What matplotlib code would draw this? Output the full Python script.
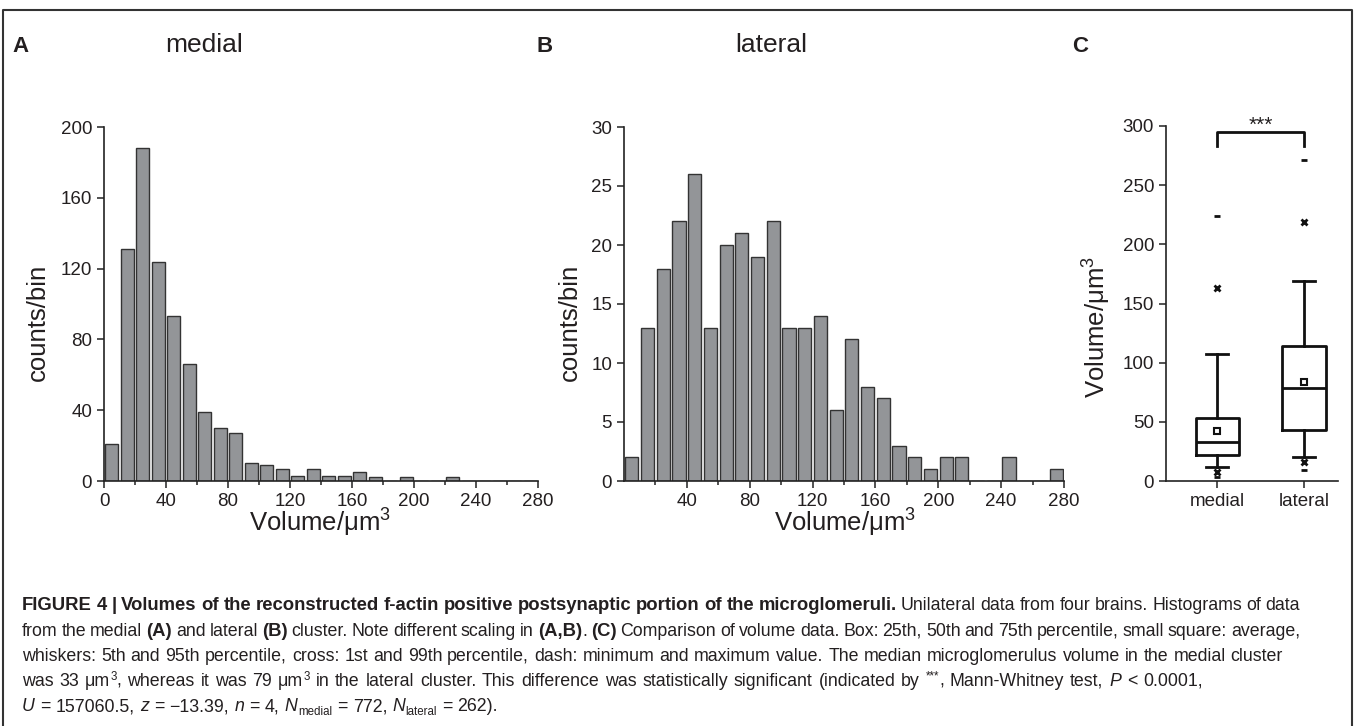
import numpy as np
import matplotlib
matplotlib.use('Agg')
import matplotlib.pyplot as plt
from matplotlib.lines import Line2D

plt.rcParams['font.family'] = ['Liberation Sans', 'DejaVu Sans']
plt.rcParams['mathtext.fontset'] = 'custom'
plt.rcParams['mathtext.rm'] = 'Liberation Sans'
plt.rcParams['mathtext.it'] = 'Liberation Sans:italic'
plt.rcParams['mathtext.bf'] = 'Liberation Sans:bold'

# ===== data =====
bin_left = np.arange(0, 280, 10)          # 10 um^3 bins, 0..280
medial_counts = [21, 131, 188, 124, 93, 66, 39, 30, 27, 10, 9, 7, 3, 7,
                 3, 3, 5, 2, 0, 2, 0, 0, 2, 0, 0, 0, 0, 0]
lateral_counts = [2, 13, 18, 22, 26, 13, 20, 21, 19, 22, 13, 13, 14, 6,
                  12, 8, 7, 3, 2, 1, 2, 2, 0, 0, 2, 0, 0, 1]

groups = ['medial', 'lateral']
q1 = [22, 43]
median = [33, 79]
q3 = [53, 114]
mean = [42, 84]
p5 = [12, 20]
p95 = [107, 169]
p1 = [8, 16]
p99 = [163, 219]
vmin = [3, 9]
vmax = [224, 271]

W, H = 1355, 726
fig = plt.figure(figsize=(W / 100, H / 100), dpi=100)
TXT = '#231f20'
BAR = '#939598'


def px_axes(l, r, t, b):
    return fig.add_axes([l / W, (H - b) / H, (r - l) / W, (b - t) / H])


def style(ax):
    for s in ['top', 'right']:
        ax.spines[s].set_visible(False)
    for s in ['left', 'bottom']:
        ax.spines[s].set_linewidth(1.2)
        ax.spines[s].set_color('#222222')
    ax.tick_params(which='both', direction='out', color='#222222',
                   labelsize=13.5, labelcolor=TXT, width=1.1)
    ax.tick_params(which='major', length=5)
    ax.tick_params(which='minor', length=3)


# ---- A: medial histogram ----
axA = px_axes(104, 538, 127, 481)
axA.bar(bin_left + 5, medial_counts, width=8.4, color=BAR,
        edgecolor='#333333', linewidth=1.0)
axA.set_xlim(0, 280)
axA.set_ylim(0, 200)
axA.set_xticks(np.arange(0, 281, 40))
axA.set_xticks(np.arange(20, 281, 40), minor=True)
axA.set_yticks(np.arange(0, 201, 40))
style(axA)

# ---- B: lateral histogram ----
axB = px_axes(624, 1064, 127, 481)
axB.bar(bin_left + 5, lateral_counts, width=8.4, color=BAR,
        edgecolor='#333333', linewidth=1.0)
axB.set_xlim(0, 280)
axB.set_ylim(0, 30)
axB.set_xticks(np.arange(40, 281, 40))
axB.set_xticks(np.arange(20, 281, 40), minor=True)
axB.set_yticks(np.arange(0, 31, 5))
style(axB)

# ---- C: box plot ----
axC = px_axes(1166, 1338, 126, 481)
stats = []
for i, g in enumerate(groups):
    stats.append(dict(label=g, med=median[i], q1=q1[i], q3=q3[i],
                      whislo=p5[i], whishi=p95[i], mean=mean[i], fliers=[]))
pos = [1, 2]
lw = 2.0
axC.bxp(stats, positions=pos, widths=0.5, capwidths=0.25, showmeans=True,
        showfliers=False,
        boxprops=dict(color='#111111', linewidth=lw),
        whiskerprops=dict(color='#111111', linewidth=lw),
        capprops=dict(color='#111111', linewidth=lw),
        medianprops=dict(color='#111111', linewidth=lw),
        meanprops=dict(marker='s', markersize=5, markerfacecolor='white',
                       markeredgecolor='#111111', markeredgewidth=1.5))
axC.plot(pos, p1, 'x', color='#111111', markersize=5, markeredgewidth=2, ls='none')
axC.plot(pos, p99, 'x', color='#111111', markersize=5, markeredgewidth=2, ls='none')
axC.plot(pos, vmin, '_', color='#111111', markersize=5, markeredgewidth=2, ls='none')
axC.plot(pos, vmax, '_', color='#111111', markersize=5, markeredgewidth=2, ls='none')
axC.set_xlim(0.41, 2.39)
axC.set_ylim(0, 300)
axC.set_yticks(np.arange(0, 301, 50))
axC.set_xticks(pos)
axC.set_xticklabels(groups)
style(axC)
# significance bracket
axC.plot([1, 1, 2, 2], [283, 295, 295, 283], color='#111111', lw=lw,
         clip_on=False)
axC.text(1.5, 296, '***', ha='center', va='baseline', fontsize=15,
         color=TXT, clip_on=False)

# ---- axis labels / panel labels ----
lab = 18.5
fig.text(320 / W, 1 - 532 / H, 'Volume/μm$^3$', ha='center', va='baseline',
         fontsize=lab, color=TXT)
fig.text(845 / W, 1 - 532 / H, 'Volume/μm$^3$', ha='center', va='baseline',
         fontsize=lab, color=TXT)
fig.text(38 / W, 1 - 322 / H, 'counts/bin', rotation=90, ha='center',
         va='center', fontsize=lab, color=TXT)
fig.text(570 / W, 1 - 322 / H, 'counts/bin', rotation=90, ha='center',
         va='center', fontsize=lab, color=TXT)
fig.text(1097 / W, 1 - 327 / H, 'Volume/μm$^3$', rotation=90, ha='center',
         va='center', fontsize=lab, color=TXT)

for x, s in [(12, 'A'), (537, 'B'), (1072, 'C')]:
    fig.text(x / W, 1 - 47 / H, s, ha='left', va='center', fontsize=16,
             fontweight='bold', color=TXT)
fig.text(165 / W, 1 - 45 / H, 'medial', ha='left', va='center',
         fontsize=19, color=TXT)
fig.text(735 / W, 1 - 45 / H, 'lateral', ha='left', va='center',
         fontsize=19, color=TXT)

# ---- frame ----
fc = '#333333'
fig.add_artist(Line2D([3 / W, 3 / W, 1352 / W, 1352 / W],
                      [0, 1 - 10 / H, 1 - 10 / H, 0],
                      transform=fig.transFigure, color=fc, lw=1.5))

# ---- caption (runs of text, each line stretched to its width) ----
cap_family = ['Liberation Sans Narrow', 'Liberation Sans']
renderer = fig.canvas.get_renderer()


def width_of(s, size, weight, style_):
    t = fig.text(0, 0, s, fontsize=size, fontweight=weight, fontstyle=style_,
                 family=cap_family)
    w = t.get_window_extent(renderer).width
    t.remove()
    return w


def run_props(kind, reg, bold):
    weight = 'bold' if kind == 'b' else 'normal'
    style_ = 'italic' if kind == 'i' else 'normal'
    sz = bold if kind == 'b' else reg
    dy = 0
    if kind == 'sup':
        sz, dy = reg * 0.65, reg * 0.5
    elif kind == 'sub':
        sz, dy = reg * 0.65, -reg * 0.3
    return weight, style_, sz, dy


def draw_line(x0, base, runs, reg, bold, extra=0.0, draw=True):
    x = x0
    gaps = 0
    for text, kind in runs:
        weight, style_, sz, dy = run_props(kind, reg, bold)
        sp = width_of('a a', sz, weight, style_) - width_of('aa', sz, weight, style_)
        words = text.split(' ')
        for k, wd in enumerate(words):
            if wd:
                if draw:
                    fig.text(x / W, 1 - (base - dy) / H, wd, fontsize=sz,
                             fontweight=weight, fontstyle=style_,
                             family=cap_family, color=TXT,
                             ha='left', va='baseline')
                x += width_of(wd, sz, weight, style_)
            if k < len(words) - 1:
                x += sp + extra
                gaps += 1
    return x, gaps


bold_head = ('FIGURE 4 | Volumes of the reconstructed f-actin positive '
             'postsynaptic portion of the microglomeruli.')
lines = [
    [(bold_head, 'b'),
     (' Unilateral data from four brains. Histograms of data', 'r')],
    [('from the medial ', 'r'), ('(A)', 'b'), (' and lateral ', 'r'),
     ('(B)', 'b'), (' cluster. Note different scaling in ', 'r'),
     ('(A,B)', 'b'), ('. ', 'r'), ('(C)', 'b'),
     (' Comparison of volume data. Box: 25th, 50th and 75th percentile, '
      'small square: average,', 'r')],
    [('whiskers: 5th and 95th percentile, cross: 1st and 99th percentile, '
      'dash: minimum and maximum value. The median microglomerulus volume '
      'in the medial cluster', 'r')],
    [('was 33 μm', 'r'), ('3', 'sup'),
     (', whereas it was 79 μm', 'r'), ('3', 'sup'),
     (' in the lateral cluster. This difference was statistically '
      'significant (indicated by ', 'r'), ('***', 'sup'),
     (', Mann-Whitney test, ', 'r'), ('P', 'i'), (' < 0.0001,', 'r')],
    [('U', 'i'), (' = 157060.5, ', 'r'), ('z', 'i'), (' = −13.39, ', 'r'),
     ('n', 'i'), (' = 4, ', 'r'), ('N', 'i'), ('medial', 'sub'),
     (' = 772, ', 'r'), ('N', 'i'), ('lateral', 'sub'), (' = 262).', 'r')],
]
line_ends = [1300, 1300, 1283, 1203, 498]
baselines = [610, 636, 661, 686, 711]

# font sizes fitted to the reference widths
base = 12
w_reg, _ = draw_line(22, 0, lines[2], base, base, draw=False)
reg_size = base * (line_ends[2] - 22) / (w_reg - 22)
w_bold, _ = draw_line(22, 0, [(bold_head, 'b')], base, base, draw=False)
bold_size = base * 881 / (w_bold - 22)

for ln, b, end in zip(lines, baselines, line_ends):
    nat, gaps = draw_line(22, b, ln, reg_size, bold_size, draw=False)
    extra = float(np.clip((end - nat) / max(gaps, 1), -1.5, 3.0))
    draw_line(22, b, ln, reg_size, bold_size, extra=extra)

fig.savefig('out.png', dpi=100)
